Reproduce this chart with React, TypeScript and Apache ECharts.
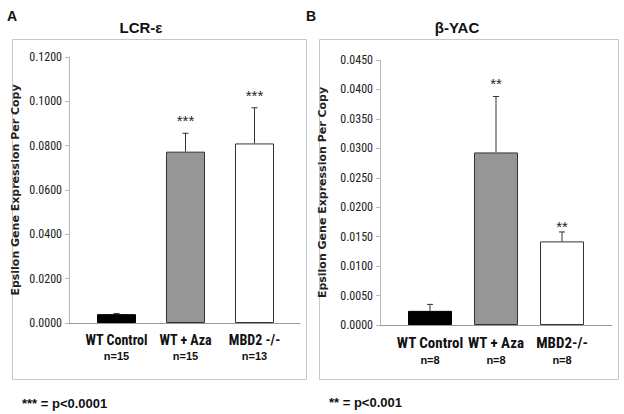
import React, { useEffect, useRef } from "react";
import * as echarts from "echarts";

// ---- data ----
const categoriesA = ["WT Control", "WT + Aza", "MBD2 -/-"];
const countsA = ["n=15", "n=15", "n=13"];
const valuesA = [0.004, 0.0773, 0.081];
const errorTopA = [0.0043, 0.0856, 0.0971];
const sigA = ["", "***", "***"];
const sigLevelA = [0, 0.0921, 0.1034];

const categoriesB = ["WT Control", "WT + Aza", "MBD2-/-"];
const countsB = ["n=8", "n=8", "n=8"];
const valuesB = [0.0024, 0.0293, 0.0142];
const errorTopB = [0.0035, 0.0388, 0.0158];
const sigB = ["", "**", "**"];
const sigLevelB = [0, 0.0413, 0.017];

const barColors = ["#000000", "#969696", "#ffffff"];
const yMaxA = 0.12;
const yStepA = 0.02;
const yMaxB = 0.045;
const yStepB = 0.005;

const yName = "Epsilon Gene Expression Per Copy";
const titleA = "LCR-ε";
const titleB = "β-YAC";
const noteA = "*** = p<0.0001";
const noteB = "** = p<0.001";

const NARROW = '"Liberation Sans Narrow", "Arial Narrow", "Roboto Condensed", sans-serif';
const SANS = '"Liberation Sans", Arial, sans-serif';

function App() {
  const ref = useRef<HTMLDivElement>(null);
  useEffect(() => {
    if (!ref.current) return;
    const chart = echarts.init(ref.current, null, { renderer: "svg" });

    const frameY = (max: number, step: number, gap: number, gridIndex: number) => ({
      type: "value",
      gridIndex,
      min: 0,
      max,
      interval: step,
      splitLine: { show: false },
      axisLine: { show: true, lineStyle: { color: "#b8b8b8", width: 1 } },
      axisTick: { show: true, length: 4, lineStyle: { color: "#b8b8b8" } },
      axisLabel: {
        margin: 7,
        fontFamily: NARROW,
        fontSize: 12,
        color: "#222",
        formatter: (v: number) => v.toFixed(4),
      },
      name: yName,
      nameLocation: "middle",
      nameRotate: 90,
      nameGap: gap,
      nameTextStyle: { fontFamily: '"DejaVu Sans", sans-serif', fontWeight: "bold", fontSize: 11, color: "#222" },
    });
    const frameX = (gridIndex: number, cats: string[]) => ({
      type: "category",
      gridIndex,
      data: cats,
      axisLine: { show: true, lineStyle: { color: "#999", width: 1 } },
      axisTick: { show: false },
      axisLabel: { show: false },
    });
    const barX = (gridIndex: number, cats: string[], counts: string[], fs: number, nGap: number) => ({
      type: "category",
      gridIndex,
      data: cats,
      axisLine: { show: false },
      axisTick: { show: false },
      axisLabel: {
        margin: 9,
        interval: 0,
        formatter: (v: string, i: number) => `{c|${v}}\n{n|${counts[i]}}`,
        rich: {
          c: { fontFamily: NARROW, fontWeight: "bold", fontSize: fs, lineHeight: fs + 2, color: "#111" },
          n: { fontFamily: SANS, fontWeight: "bold", fontSize: 11, lineHeight: nGap, color: "#111" },
        },
      },
    });
    const barY = (gridIndex: number, max: number) => ({
      type: "value",
      gridIndex,
      min: 0,
      max,
      show: false,
      splitLine: { show: false },
    });

    const errSeries = (xi: number, vals: number[], tops: number[], sig: string[], sigLv: number[]) => ({
      type: "custom",
      xAxisIndex: xi,
      yAxisIndex: xi,
      z: 5,
      data: vals.map((v, i) => [i, tops[i], v]),
      renderItem: (params: any, api: any) => {
        const i = api.value(0);
        const top = api.coord([i, api.value(1)]);
        const base = api.coord([i, api.value(2)]);
        const children: any[] = [
          { type: "line", shape: { x1: top[0], y1: base[1], x2: top[0], y2: top[1] }, style: { stroke: "#333", lineWidth: 1 } },
          { type: "line", shape: { x1: top[0] - 3, y1: top[1], x2: top[0] + 3, y2: top[1] }, style: { stroke: "#333", lineWidth: 1 } },
        ];
        const s = sig[params.dataIndex];
        if (s) {
          const p = api.coord([i, sigLv[params.dataIndex]]);
          children.push({
            type: "text",
            style: {
              text: s,
              x: p[0],
              y: p[1] + 2,
              align: "center",
              verticalAlign: "middle",
              fontFamily: SANS,
              fontSize: 15,
              fill: "#222",
            },
          });
        }
        return { type: "group", children };
      },
    });

    const barSeries = (xi: number, vals: number[], w: number) => ({
      type: "bar",
      xAxisIndex: xi,
      yAxisIndex: xi,
      barWidth: w,
      data: vals.map((v, i) => ({
        value: v,
        itemStyle: { color: barColors[i], borderColor: i === 0 ? "#000" : "#333", borderWidth: 1 },
      })),
    });

    const txt = (text: string, x: number, y: number, size: number, align = "left") => ({
      type: "text",
      x,
      y,
      style: {
        text,
        align,
        verticalAlign: "middle",
        fontFamily: SANS,
        fontWeight: "bold",
        fontSize: size,
        fill: "#111",
      },
    });

    chart.setOption({
      animation: false,
      backgroundColor: "#ffffff",
      grid: [
        { left: 69, top: 57, width: 231, height: 266 },
        { left: 82, top: 57, width: 207, height: 266 },
        { left: 380, top: 60, width: 232, height: 265 },
        { left: 397, top: 60, width: 198, height: 265 },
      ],
      xAxis: [
        frameX(0, categoriesA),
        barX(1, categoriesA, countsA, 14, 15),
        frameX(2, categoriesB),
        barX(3, categoriesB, countsB, 15, 17),
      ],
      yAxis: [
        frameY(yMaxA, yStepA, 48, 0),
        barY(1, yMaxA),
        frameY(yMaxB, yStepB, 52, 2),
        barY(3, yMaxB),
      ],
      series: [
        barSeries(1, valuesA, 39),
        errSeries(1, valuesA, errorTopA, sigA, sigLevelA),
        barSeries(3, valuesB, 44),
        errSeries(3, valuesB, errorTopB, sigB, sigLevelB),
      ],
      graphic: [
        { type: "rect", shape: { x: 12.5, y: 39.5, width: 294, height: 340 }, style: { fill: "none", stroke: "#c8c8c8", lineWidth: 1 }, z: -1 },
        { type: "rect", shape: { x: 319.5, y: 39.5, width: 299, height: 340 }, style: { fill: "none", stroke: "#c8c8c8", lineWidth: 1 }, z: -1 },
        txt("A", 7, 16, 14),
        txt("B", 306, 16, 14),
        txt(titleA, 141, 27, 15, "center"),
        txt(titleB, 457, 27, 15, "center"),
        txt(noteA, 22, 403, 13),
        txt(noteB, 329, 402, 13),
      ],
    });
    return () => chart.dispose();
  }, []);
  return (
    <div
      ref={ref}
      style={{ position: "fixed", left: 0, top: 0, width: 624, height: 414, background: "#fff" }}
    />
  );
}

export default App;
